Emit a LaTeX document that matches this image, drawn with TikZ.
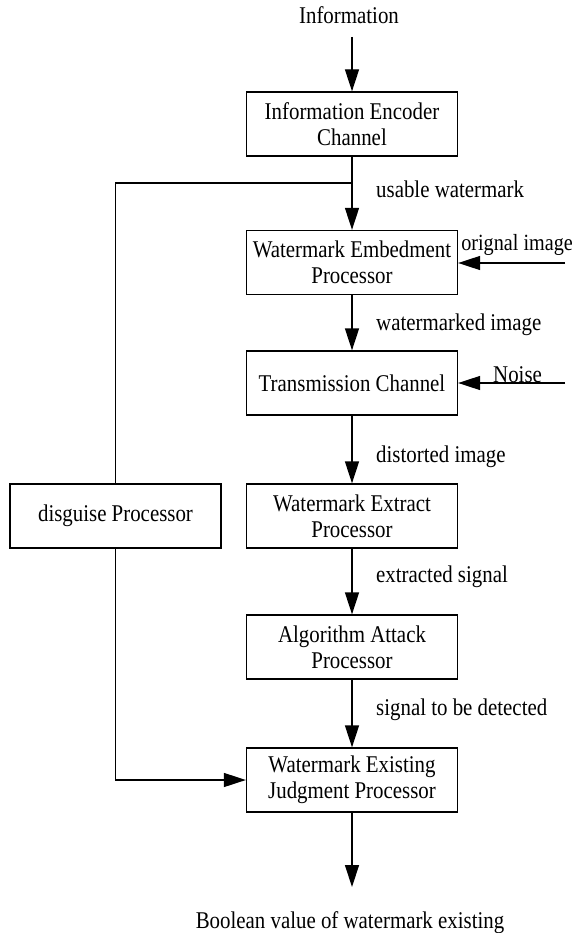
\documentclass[tikz,border=0pt]{standalone}
\usepackage{fontspec}
\setmainfont{Liberation Serif}[FakeStretch=0.87]
\usetikzlibrary{arrows.meta}
\newcommand\diagfont{\fontsize{24}{26}\selectfont}
\newcommand\smallerdiagfont{\fontsize{23.2}{26}\selectfont}
\begin{document}
\begin{tikzpicture}[x=1pt,y=-1pt,
  box/.style={draw, line width=1.3pt, minimum width=211pt, minimum height=64pt, inner sep=0pt, align=center, font=\diagfont},
  lbl/.style={inner sep=0pt, anchor=base west, font=\diagfont},
  conn/.style={line width=1.3pt},
  arr/.style={conn, -{Triangle[length=22pt,width=14pt]}}]
\useasboundingbox (0,0) rectangle (574,933);
% main column
\node[lbl, anchor=base] (info) at (349,24) {Information};
\node[box] (enc) at (352,124) {Information Encoder\\Channel};
\node[box] (emb) at (352,262.5) {Watermark Embedment\\Processor};
\node[box] (tra) at (352,383) {Transmission Channel};
\node[box] (ext) at (352,516) {Watermark Extract\\Processor};
\node[box] (alg) at (352,647) {Algorithm Attack\\Processor};
\node[box] (jud) at (352,780) {Watermark Existing\\Judgment Processor};
\node[box] (dis) at (115.5,516) {disguise Processor};
\node[lbl, anchor=base] (bool) at (350,928) {Boolean value of watermark existing};
% labels
\node[lbl] (l1) at (376,198) {usable watermark};
\node[lbl] (l2) at (376,330) {watermarked image};
\node[lbl] (l3) at (376,462) {distorted image};
\node[lbl] (l4) at (376,582) {extracted signal};
\node[lbl] (l5) at (376,715) {signal to be detected};
\node[lbl, anchor=base east, font=\smallerdiagfont] (orig) at (573,250) {orignal image};
\node[lbl] (noise) at (493,382) {Noise};
% free ends
\coordinate (infoEnd) at (352,37);
\coordinate (split) at (352,183);
\coordinate (origStart) at (565,263);
\coordinate (noiseStart) at (565,383);
\coordinate (boolEnd) at (352,887);
% connectors
\draw[arr] (infoEnd) -- (enc.north);
\draw[arr] (enc) -- (emb);
\draw[arr] (emb) -- (tra);
\draw[arr] (tra) -- (ext);
\draw[arr] (ext) -- (alg);
\draw[arr] (alg) -- (jud);
\draw[arr] (jud) -- (boolEnd);
\draw[conn] (split) -| (dis.north);
\draw[arr] (dis.south) |- (jud.west);
\draw[arr] (origStart) -- (origStart -| emb.east);
\draw[arr] (noiseStart) -- (tra.east);
\end{tikzpicture}
\end{document}
